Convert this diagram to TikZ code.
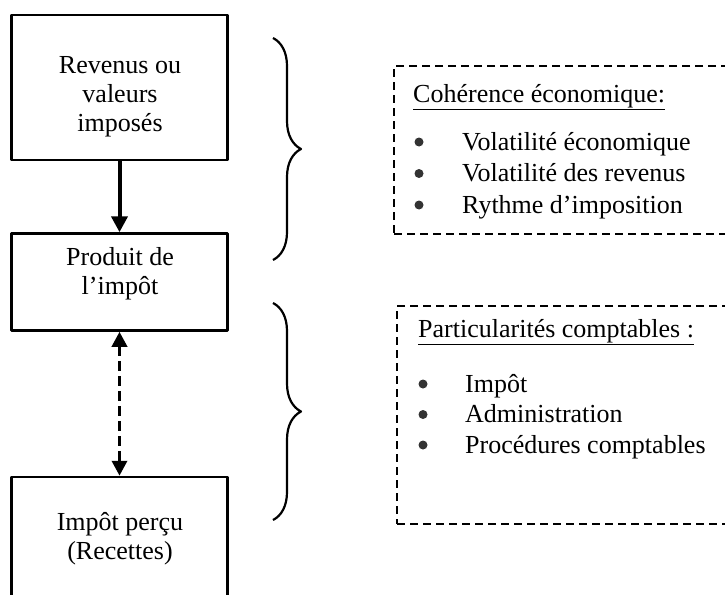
\documentclass[tikz,border=0pt]{standalone}
\usepackage{fontspec}
\setmainfont{Liberation Serif}
\usetikzlibrary{arrows.meta,calc,positioning,decorations.pathreplacing}
\tikzset{
  every node/.style={font=\fontsize{26}{29}\selectfont},
  flow box/.style={draw=black, line width=2.5pt, minimum width=216pt,
    inner sep=0pt},
  note box/.style={draw=black, line width=2.2pt, dash pattern=on 8pt off 5pt,
    inner sep=0pt, anchor=north west},
  label text/.style={align=center, inner sep=0pt},
  item text/.style={anchor=base west, inner sep=0pt},
  bullet/.style={circle, fill=black!80, inner sep=0pt, minimum size=9pt},
  flow/.style={line width=4pt, -{Triangle[length=16pt, width=16pt]}},
  flow back/.style={line width=3.5pt, dash pattern=on 10pt off 5pt,
    {Triangle[length=15pt, width=15pt]}-{Triangle[length=15pt, width=15pt]}},
  curly/.style={line width=2.2pt, decorate,
    decoration={brace, amplitude=28pt}}
}

\begin{document}
\begin{tikzpicture}[x=1pt, y=-1pt, line join=round]
  \useasboundingbox (0,0) rectangle (725,594);
  \clip (0,0) rectangle (725,594);

  % left column
  \node[flow box, minimum height=145pt] (rev) at (119.5,87.5) {};
  \node[flow box, minimum height=97pt, below=71pt of rev] (prod) {};
  \node[flow box, minimum height=130pt, below=144pt of prod] (imp) {};
  \node[label text] (revtxt) at (120,97) {Revenus ou\\valeurs\\imposés};
  \node[label text] (prodtxt) at (120,274) {Produit de\\l’impôt};
  \node[label text] (imptxt) at (120,539) {Impôt perçu\\(Recettes)};
  \draw[flow] (rev) -- (prod);
  \draw[flow back] (prod) -- (imp);

  % braces
  \coordinate (b1top) at (273,38);
  \coordinate (b1bot) at (273,260);
  \coordinate (b2top) at (273,303);
  \coordinate (b2bot) at (273,520);
  \draw[curly] (b1top) -- (b1bot);
  \draw[curly] (b2top) -- (b2bot);

  % dashed notes
  \node[note box, minimum width=350pt, minimum height=168pt] (coh)
    at (393,65) {};
  \node[note box, minimum width=350pt, minimum height=218pt] (part)
    at (396,305) {};
  \node[item text] (cohhead) at ($(coh.north west)+(20,37)$)
    {\underline{Cohérence économique:}};
  \foreach \txt [count=\i] in {Volatilité économique,
      Volatilité des revenus, Rythme d’imposition} {
    \node[bullet] (cohdot\i) at ($(coh.north west)+(26,{85+31.5*(\i-1)-8})$) {};
    \node[item text] (cohitem\i) at ($(coh.north west)+(69,{85+31.5*(\i-1)})$)
      {\txt};
  }
  \node[item text] (parthead) at ($(part.north west)+(22,32)$)
    {\underline{Particularités comptables :}};
  \foreach \txt [count=\i] in {Impôt, Administration,
      Procédures comptables} {
    \node[bullet] (partdot\i) at ($(part.north west)+(27,{87+30.5*(\i-1)-8})$) {};
    \node[item text] (partitem\i) at ($(part.north west)+(69,{87+30.5*(\i-1)})$)
      {\txt};
  }
\end{tikzpicture}
\end{document}
